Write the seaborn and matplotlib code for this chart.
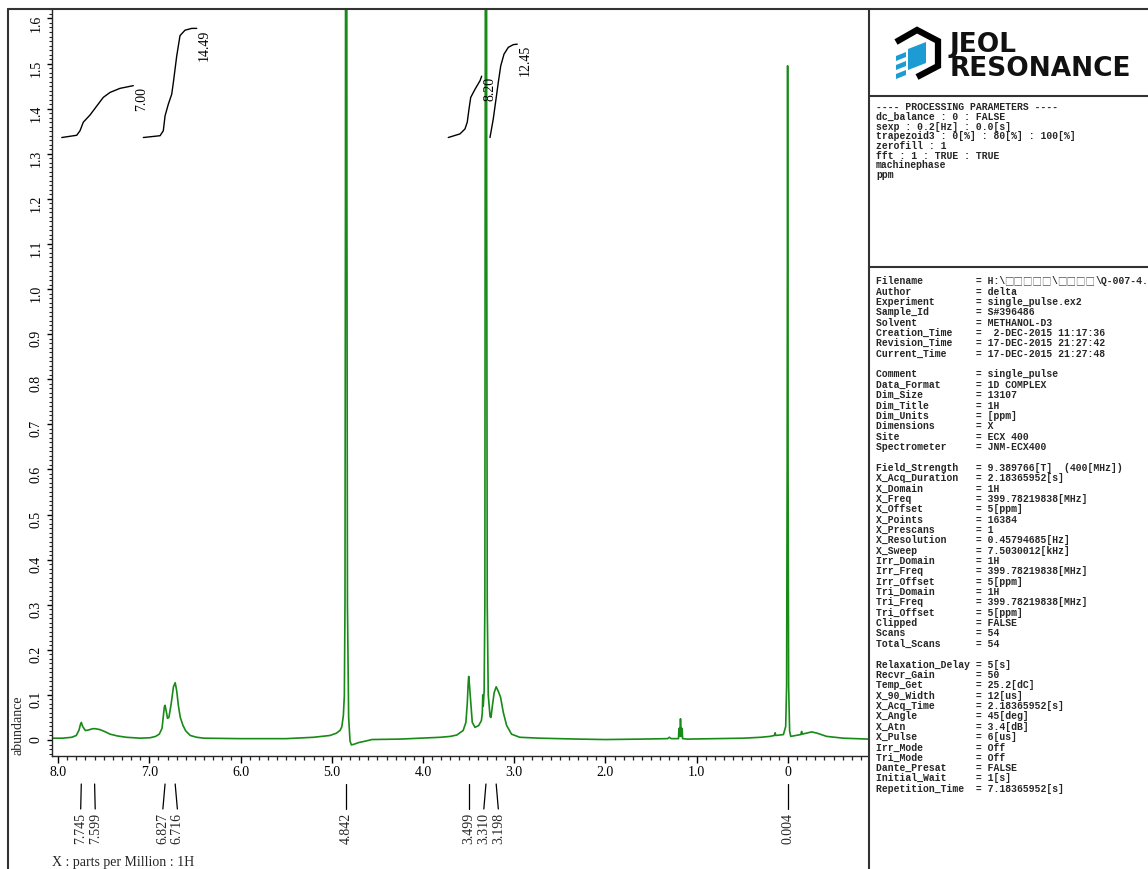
import numpy as np
import matplotlib
matplotlib.use("Agg")
import matplotlib.pyplot as plt
import seaborn as sns
from matplotlib.transforms import Affine2D, blended_transform_factory, offset_copy
from matplotlib.lines import Line2D
from matplotlib.patches import Polygon
from matplotlib.ticker import MultipleLocator, FixedLocator, FuncFormatter

# ---------------- data ----------------
spec_ppm = [8.07, 7.95, 7.85, 7.80, 7.77, 7.755, 7.745, 7.73, 7.70, 7.67, 7.62, 7.59,
            7.54, 7.48, 7.43, 7.35, 7.25, 7.10, 6.99, 6.93, 6.89, 6.86, 6.845, 6.835,
            6.827, 6.815, 6.80, 6.785, 6.76, 6.735, 6.716, 6.70, 6.68, 6.66, 6.63, 6.60,
            6.55, 6.48, 6.40, 6.0, 5.5, 5.2, 5.02, 4.95, 4.91, 4.89, 4.873, 4.862,
            4.855, 4.850, 4.846, 4.842, 4.838, 4.834, 4.828, 4.815, 4.80, 4.785, 4.75,
            4.71, 4.62, 4.56, 4.25, 4.03, 3.81, 3.70, 3.63, 3.56, 3.53, 3.515, 3.505,
            3.499, 3.49, 3.477, 3.46, 3.43, 3.39, 3.36, 3.35, 3.345, 3.34, 3.33, 3.322,
            3.318, 3.314, 3.310, 3.306, 3.302, 3.296, 3.285, 3.265, 3.255, 3.24, 3.22,
            3.198, 3.175, 3.15, 3.12, 3.083, 3.03, 2.94, 2.72, 2.3, 2.0, 1.6, 1.32,
            1.30, 1.28, 1.20, 1.195, 1.188, 1.183, 1.178, 1.172, 1.167, 1.160, 1.155,
            1.10, 0.80, 0.49, 0.30, 0.197, 0.15, 0.14, 0.135, 0.05, 0.025, 0.015,
            0.009, 0.004, -0.001, -0.007, -0.018, -0.03, -0.058, -0.14, -0.15, -0.155,
            -0.20, -0.26, -0.32, -0.424, -0.606, -0.88]
spec_int = [0.004, 0.004, 0.006, 0.010, 0.022, 0.034, 0.039, 0.030, 0.021, 0.022, 0.025, 0.025,
            0.023, 0.018, 0.013, 0.009, 0.006, 0.004, 0.005, 0.008, 0.013, 0.026, 0.055, 0.073,
            0.077, 0.065, 0.048, 0.050, 0.080, 0.118, 0.127, 0.110, 0.075, 0.050, 0.032, 0.020,
            0.010, 0.006, 0.004, 0.003, 0.003, 0.006, 0.010, 0.015, 0.021, 0.029, 0.054, 0.098,
            0.3, 1.2, 3.0, 5.0, 3.0, 1.2, 0.3, 0.05, -0.002, -0.011, -0.009,
            -0.006, -0.002, 0.001, 0.002, 0.004, 0.006, 0.008, 0.011, 0.021, 0.039, 0.080, 0.125,
            0.141, 0.120, 0.084, 0.039, 0.028, 0.032, 0.043, 0.060, 0.100, 0.075, 0.108, 0.3,
            1.2, 3.0, 5.0, 3.0, 1.2, 0.3, 0.10, 0.052, 0.050, 0.075, 0.105,
            0.118, 0.108, 0.095, 0.061, 0.032, 0.013, 0.006, 0.004, 0.002, 0.001, 0.002, 0.003,
            0.006, 0.003, 0.003, 0.025, 0.026, 0.008, 0.047, 0.008, 0.026, 0.025, 0.003,
            0.002, 0.003, 0.004, 0.006, 0.008, 0.010, 0.016, 0.010, 0.012, 0.03, 0.12,
            0.6, 1.495, 0.6, 0.12, 0.02, 0.008, 0.009, 0.012, 0.019, 0.013,
            0.015, 0.018, 0.015, 0.008, 0.004, 0.002]

integ1_ppm = [7.959, 7.795, 7.759, 7.723, 7.649, 7.575, 7.504, 7.430, 7.321, 7.175]
integ1_val = [1.336, 1.341, 1.351, 1.370, 1.386, 1.406, 1.425, 1.436, 1.445, 1.451]
integ2_ppm = [7.065, 6.882, 6.846, 6.827, 6.791, 6.754, 6.736, 6.699, 6.663, 6.608, 6.535, 6.480]
integ2_val = [1.336, 1.340, 1.351, 1.384, 1.410, 1.432, 1.458, 1.517, 1.562, 1.574, 1.578, 1.578]
integ3_ppm = [3.723, 3.595, 3.540, 3.515, 3.496, 3.477, 3.430, 3.375, 3.357]
integ3_val = [1.336, 1.344, 1.355, 1.370, 1.399, 1.425, 1.443, 1.462, 1.472]
integ4_ppm = [3.266, 3.230, 3.200, 3.175, 3.148, 3.112, 3.065, 3.010, 2.967]
integ4_val = [1.336, 1.377, 1.421, 1.458, 1.495, 1.521, 1.536, 1.542, 1.543]
integ_labels = ["7.00", "14.49", "8.20", "12.45"]

peak_ppm = [7.745, 7.599, 6.827, 6.716, 4.842, 3.499, 3.310, 3.198, 0.004]
peak_labels = ["7.745", "7.599", "6.827", "6.716", "4.842", "3.499", "3.310", "3.198", "0.004"]

x_ticks = [8.0, 7.0, 6.0, 5.0, 4.0, 3.0, 2.0, 1.0, 0.0]

proc_lines = ["---- PROCESSING PARAMETERS ----",
              "dc_balance : 0 : FALSE",
              "sexp : 0.2[Hz] : 0.0[s]",
              "trapezoid3 : 0[%] : 80[%] : 100[%]",
              "zerofill : 1",
              "fft : 1 : TRUE : TRUE",
              "machinephase",
              "ppm"]

# Filename value pieces: text runs and runs of missing-glyph boxes
filename_parts = ["H:\\", "\u25a1\u25a1\u25a1\u25a1\u25a1", "\\", "\u25a1\u25a1\u25a1\u25a1",
                  "\\Q-007-4.jdf"]

param_keys = ["Author", "Experiment", "Sample_Id", "Solvent", "Creation_Time",
              "Revision_Time", "Current_Time", "",
              "Comment", "Data_Format", "Dim_Size", "Dim_Title", "Dim_Units", "Dimensions",
              "Site", "Spectrometer", "",
              "Field_Strength", "X_Acq_Duration", "X_Domain", "X_Freq", "X_Offset", "X_Points",
              "X_Prescans", "X_Resolution", "X_Sweep", "Irr_Domain", "Irr_Freq", "Irr_Offset",
              "Tri_Domain", "Tri_Freq", "Tri_Offset", "Clipped", "Scans", "Total_Scans", "",
              "Relaxation_Delay", "Recvr_Gain", "Temp_Get", "X_90_Width", "X_Acq_Time",
              "X_Angle", "X_Atn", "X_Pulse", "Irr_Mode", "Tri_Mode", "Dante_Presat",
              "Initial_Wait", "Repetition_Time"]
param_vals = ["delta", "single_pulse.ex2", "S#396486", "METHANOL-D3",
              " 2-DEC-2015 11:17:36", "17-DEC-2015 21:27:42", "17-DEC-2015 21:27:48", "",
              "single_pulse", "1D COMPLEX", "13107", "1H", "[ppm]", "X", "ECX 400",
              "JNM-ECX400", "",
              "9.389766[T]  (400[MHz])", "2.18365952[s]", "1H", "399.78219838[MHz]",
              "5[ppm]", "16384", "1", "0.45794685[Hz]", "7.5030012[kHz]", "1H",
              "399.78219838[MHz]", "5[ppm]", "1H", "399.78219838[MHz]", "5[ppm]", "FALSE",
              "54", "54", "",
              "5[s]", "50", "25.2[dC]", "12[us]", "2.18365952[s]", "45[deg]", "3.4[dB]",
              "6[us]", "Off", "Off", "FALSE", "1[s]", "7.18365952[s]"]

# ---------------- styling ----------------
sns.set_style("ticks")
plt.rcParams["font.family"] = ["Liberation Serif", "DejaVu Serif"]
plt.rcParams["axes.linewidth"] = 1.0
GREEN = "#178a17"
FRAME = "#333333"
MONO = ["Liberation Mono", "DejaVu Sans Mono"]

W, H = 1148, 870
fig = plt.figure(figsize=(W / 100, H / 100), dpi=100)
fig.patch.set_facecolor("white")
P = Affine2D().scale(1.0 / W, -1.0 / H).translate(0, 1) + fig.transFigure

ax = fig.add_axes([52 / W, 1 - 757 / H, 816 / W, 747 / H])
ax.set_facecolor("white")
sns.lineplot(x=spec_ppm, y=spec_int, sort=False, estimator=None, color=GREEN,
             linewidth=1.2, ax=ax)
for xs, ys in [(integ1_ppm, integ1_val), (integ2_ppm, integ2_val),
               (integ3_ppm, integ3_val), (integ4_ppm, integ4_val)]:
    sns.lineplot(x=xs, y=ys, sort=False, estimator=None, color="black",
                 linewidth=1.0, ax=ax)

ax.set_xlim(8.066, -0.877)
ax.set_ylim(-0.0355, 1.621)
ax.set_xlabel("")
ax.set_ylabel("")
for s in ["top", "right"]:
    ax.spines[s].set_visible(False)

ax.xaxis.set_major_locator(FixedLocator(x_ticks))
ax.xaxis.set_minor_locator(MultipleLocator(0.1))
ax.xaxis.set_major_formatter(FuncFormatter(lambda v, p: "0" if abs(v) < 1e-9 else f"{v:.1f}"))
ax.yaxis.set_major_locator(MultipleLocator(0.1))
ax.yaxis.set_minor_locator(MultipleLocator(0.01))
ax.yaxis.set_major_formatter(FuncFormatter(lambda v, p: "0" if abs(v) < 1e-9 else f"{v:.1f}"))
ax.tick_params(axis="x", which="major", direction="out", length=4.8, width=1.0,
               pad=1.5, labelsize=10, colors="black")
ax.tick_params(axis="x", which="minor", direction="out", length=3.0, width=0.9)
ax.tick_params(axis="y", which="major", direction="out", length=3.6, width=1.0,
               pad=3, labelsize=10, labelrotation=90, colors="black")
ax.tick_params(axis="y", which="minor", direction="out", length=2.0, width=0.8)

# integration labels
off = offset_copy(ax.transData, fig=fig, x=8, y=0, units="dots")
for xs, ys, lab in zip([integ1_ppm, integ2_ppm, integ3_ppm, integ4_ppm],
                       [integ1_val, integ2_val, integ3_val, integ4_val], integ_labels):
    ax.text(xs[-1], ys[-1], lab, transform=off, rotation=90, ha="center", va="top",
            fontsize=10, color="black")

# peak labels below the axis, spread to avoid overlap
x0, x1 = ax.get_xlim()
sep = 14.5 * (x0 - x1) / 816.0
order = np.argsort(-np.array(peak_ppm))
orig = np.array([-peak_ppm[i] for i in order])
groups = [[k] for k in range(len(orig))]
pos = orig.copy()
changed = True
while changed:
    changed = False
    merged = [groups[0]]
    for g in groups[1:]:
        if pos[merged[-1][-1]] + sep > pos[g[0]] + 1e-12:
            merged[-1] = merged[-1] + g
            changed = True
        else:
            merged.append(g)
    groups = merged
    for g in groups:
        c = orig[g].mean()
        n = len(g)
        for j, k in enumerate(g):
            pos[k] = c + (j - (n - 1) / 2.0) * sep
bt = blended_transform_factory(ax.transData, ax.transAxes)
y_top = (757 - 785) / 747.0
y_bot = (757 - 810) / 747.0
y_txt = (757 - 813) / 747.0
for k, i in enumerate(order):
    lx = -pos[k]
    ax.plot([peak_ppm[i], lx], [y_top, y_bot], transform=bt, clip_on=False,
            color="black", lw=0.9)
    ax.text(lx, y_txt, peak_labels[i], transform=bt, rotation=90, ha="center", va="top",
            fontsize=10, clip_on=False)

# axis titles
fig.text(18 / W, 1 - 725 / H, "abundance", rotation=90, ha="center", va="center", fontsize=10)
fig.text(52 / W, 1 - 863 / H, "X : parts per Million : 1H", ha="left", va="center", fontsize=10)

# frame lines
for (xa, ya, xb, yb) in [(8, 10, 1148, 10), (8, 10, 8, 870), (869, 10, 869, 870),
                         (869, 97, 1148, 97), (869, 268, 1148, 268)]:
    fig.add_artist(Line2D([xa, xb], [ya, yb], transform=P, color=FRAME, lw=1.5))

# logo
fig.add_artist(Line2D([896, 917, 938, 938, 917], [43, 31, 42, 67, 78], transform=P,
                      color="black", lw=4.5, solid_joinstyle="miter", solid_capstyle="butt"))
BLUE = "#1d9bd3"
for poly in [[(908, 50), (926, 43), (926, 64), (908, 71)],
             [(896, 57), (906, 53), (906, 58), (896, 62)],
             [(896, 66), (906, 62), (906, 67), (896, 71)],
             [(896, 75), (906, 71), (906, 76), (896, 80)]]:
    fig.add_artist(Polygon(poly, closed=True, transform=P, facecolor=BLUE, edgecolor="none"))
fig.text(950 / W, 1 - 76 / H, "JEOL\nRESONANCE", ha="left", va="baseline", fontsize=19,
         fontweight="bold", family=["DejaVu Sans"], color="#111111", linespacing=0.92,
         multialignment="left")

# parameter text panel
CW = 7 * 100 / 72 * 0.6  # monospace advance in pixels
for i, line in enumerate(proc_lines):
    fig.text(876 / W, 1 - (107 + 9.7 * i + 3.2) / H, line, ha="left", va="baseline",
             fontsize=7, fontweight="bold", family=MONO)

# Filename line assembled from runs (boxes are double width)
yb = 1 - (281 + 3.2) / H
xcur = 876.0
first = f"{'Filename':<17}= " + filename_parts[0]
fig.text(xcur / W, yb, first, ha="left", va="baseline", fontsize=7, fontweight="bold",
         family=MONO)
xcur += len(first) * CW
for part in filename_parts[1:]:
    if part.startswith("\u25a1"):
        fig.text(xcur / W, yb, part, ha="left", va="baseline", fontsize=6.8,
                 family=["Noto Sans CJK JP", "DejaVu Sans"], color="#555555")
        xcur += len(part) * 9.45
    else:
        fig.text(xcur / W, yb, part, ha="left", va="baseline", fontsize=7,
                 fontweight="bold", family=MONO)
        xcur += len(part) * CW

for i, (k, v) in enumerate(zip(param_keys, param_vals)):
    if not k:
        continue
    fig.text(876 / W, 1 - (281 + 10.36 * (i + 1) + 3.2) / H, f"{k:<17}= {v}", ha="left",
             va="baseline", fontsize=7, fontweight="bold", family=MONO)

fig.savefig("out.png", dpi=100)
